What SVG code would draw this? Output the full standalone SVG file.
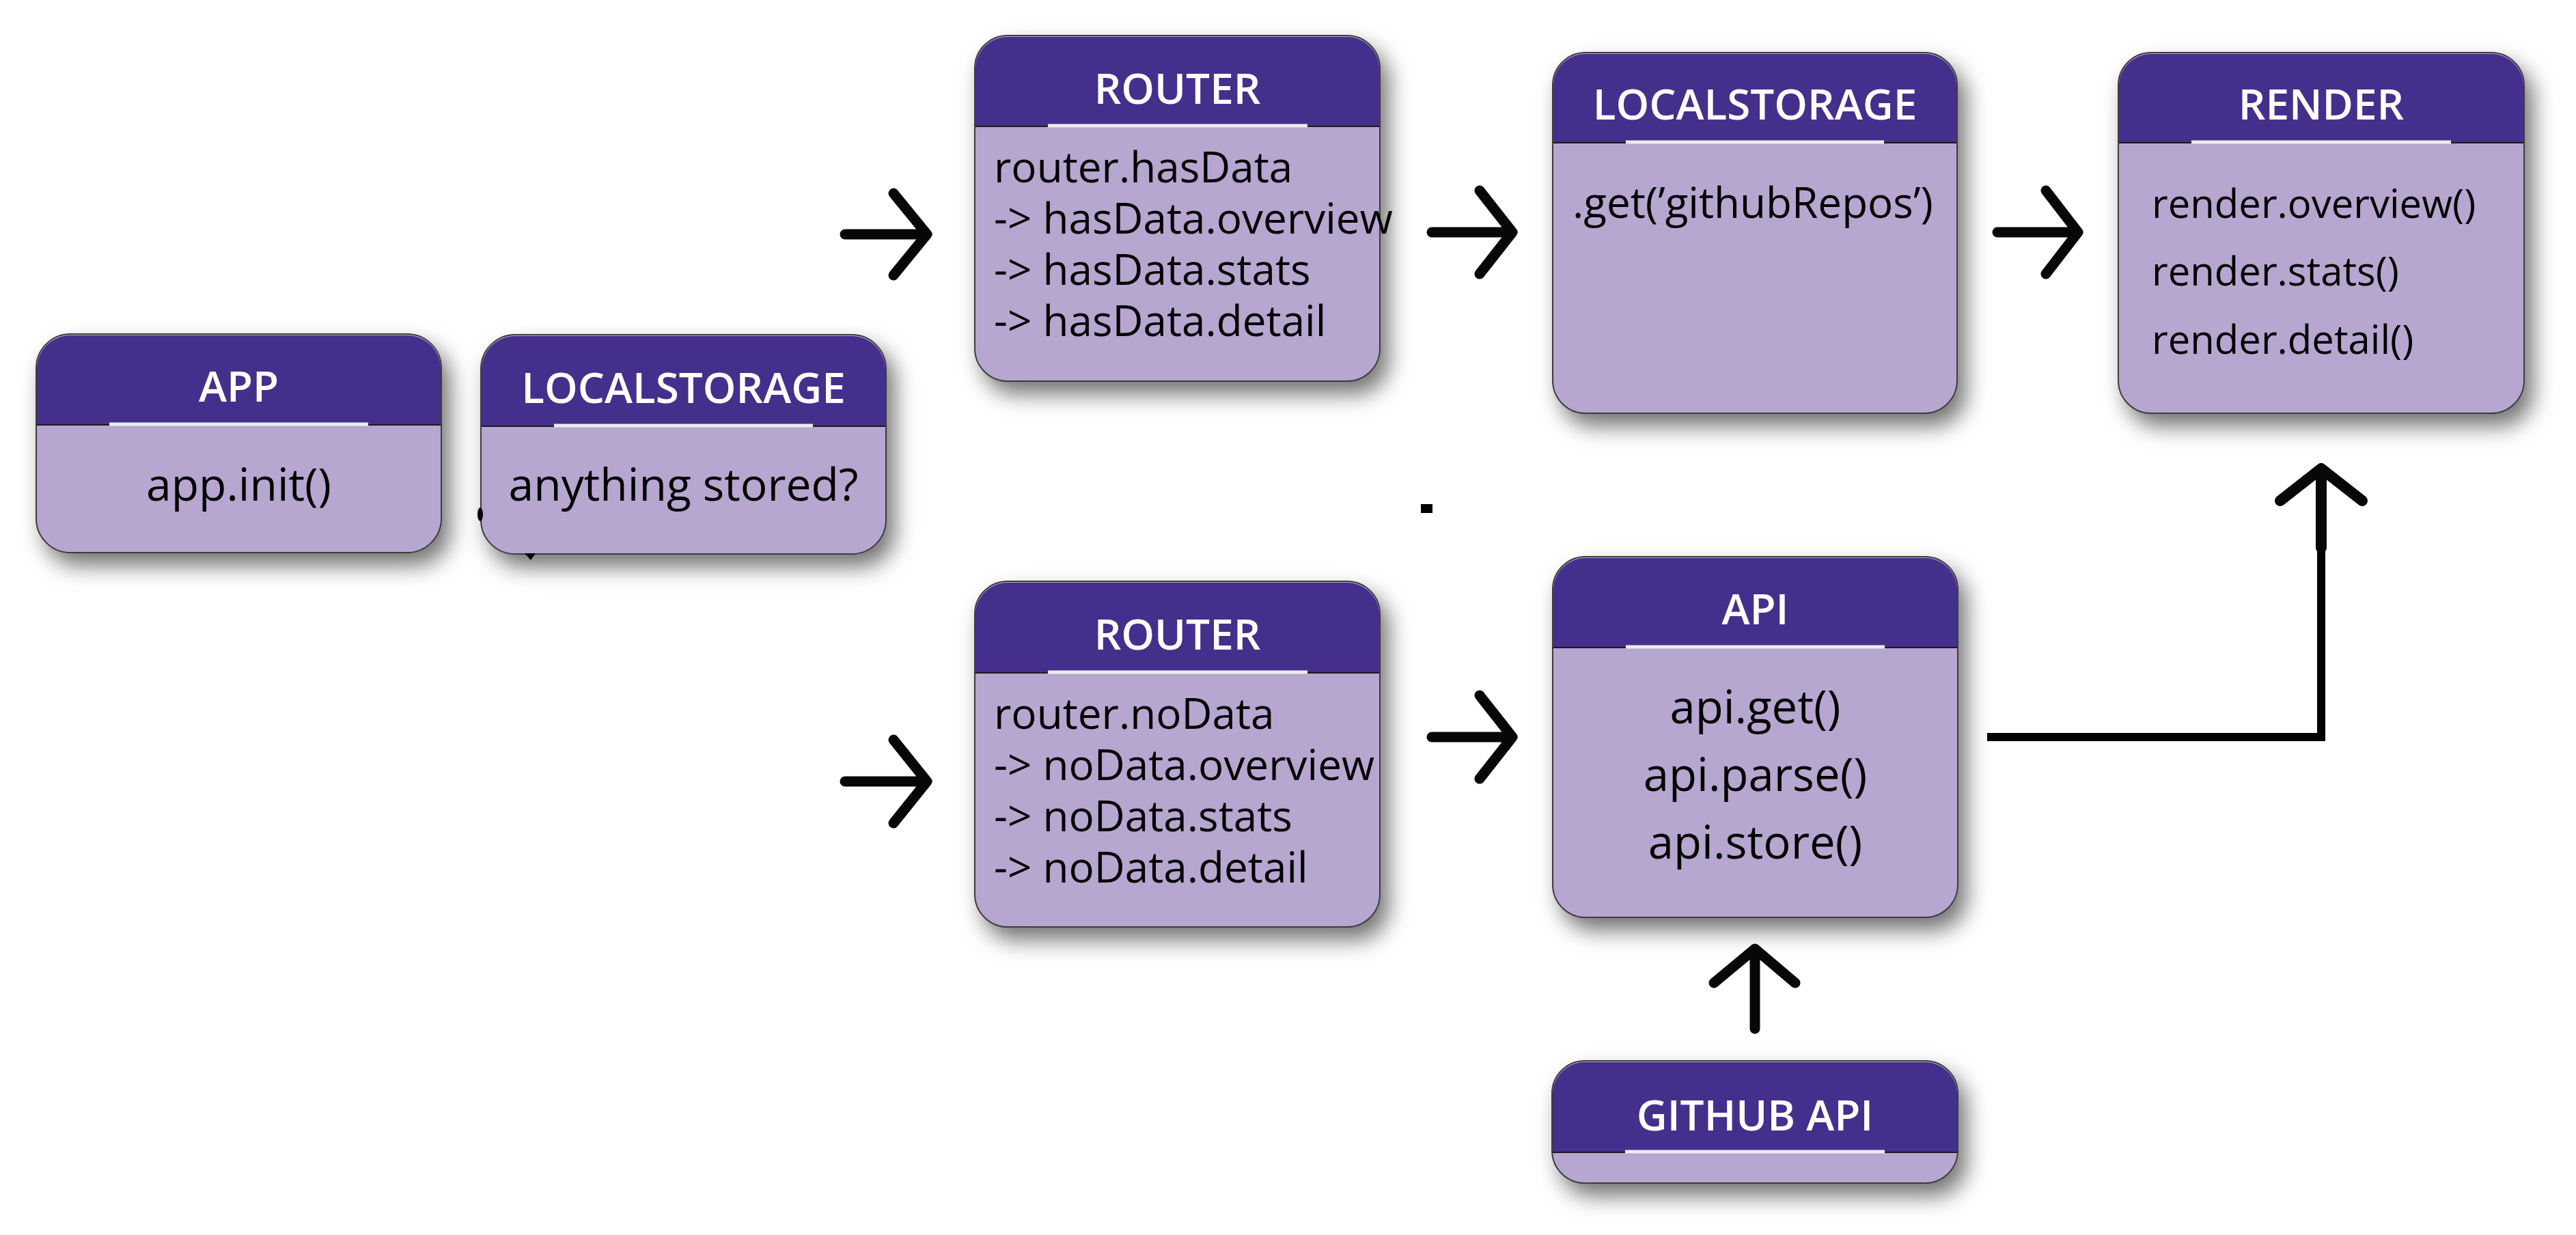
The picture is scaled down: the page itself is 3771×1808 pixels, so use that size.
<svg xmlns="http://www.w3.org/2000/svg" width="3771" height="1808" viewBox="0 0 3771 1808">
<defs>
<filter id="sh" x="-20%" y="-20%" width="150%" height="160%">
<feDropShadow dx="12" dy="18" stdDeviation="16" flood-color="#000" flood-opacity="0.55"/>
</filter>
</defs>
<style>
.body{fill:#b6a6d0;stroke:#3c3c3c;stroke-width:2}
.head{fill:#452f8d}
.div{stroke:#1a1a1a;stroke-width:2}
.wl{stroke:#ececec;stroke-width:5}
.title{font-family:"Open Sans",sans-serif;font-size:62px;font-weight:600;fill:#fff;text-anchor:middle}
.txt{font-family:"Open Sans",sans-serif;fill:#000}
.c{text-anchor:middle}
.arr{fill:none;stroke:#060808;stroke-width:15;stroke-linecap:round;stroke-linejoin:round}
.ln{fill:none;stroke:#000;stroke-width:12}
</style>
<rect width="3771" height="1808" fill="#fff"/>

<g id="app">
<rect class="body" x="53" y="489" width="593" height="320" rx="50" filter="url(#sh)"/>
<path class="head" d="M54,622 V539 A49,49 0 0 1 103,491 H596 A49,49 0 0 1 645,539 V622 Z"/>
<line class="div" x1="54" y1="622" x2="645" y2="622"/>
<line class="wl" x1="160" y1="621" x2="539" y2="621"/>
<text class="title" x="349.5" y="588">APP</text>
<text class="txt c" x="349.5" y="733" font-size="66">app.init()</text>
</g>

<g id="localstorage1">
<rect class="body" x="704" y="490" width="593" height="321" rx="50" filter="url(#sh)"/>
<path class="head" d="M705,624 V540 A49,49 0 0 1 754,492 H1247 A49,49 0 0 1 1296,540 V624 Z"/>
<line class="div" x1="705" y1="624" x2="1296" y2="624"/>
<line class="wl" x1="811" y1="623" x2="1190" y2="623"/>
<text class="title" x="1000.5" y="590">LOCALSTORAGE</text>
<text class="txt c" x="1000.5" y="733" font-size="66">anything stored?</text>
</g>

<g id="router-hasdata">
<rect class="body" x="1427" y="52" width="593" height="506" rx="48" filter="url(#sh)"/>
<path class="head" d="M1428,185 V100 A47,47 0 0 1 1475,54 H1972 A47,47 0 0 1 2019,100 V185 Z"/>
<line class="div" x1="1428" y1="185" x2="2019" y2="185"/>
<line class="wl" x1="1534" y1="184" x2="1914" y2="184"/>
<text class="title" x="1723.5" y="152">ROUTER</text>
<g class="txt" font-size="62">
<text x="1455" y="267">router.hasData</text>
<text x="1455" y="342">-&gt; hasData.overview</text>
<text x="1455" y="417">-&gt; hasData.stats</text>
<text x="1455" y="492">-&gt; hasData.detail</text>
</g>
</g>

<g id="localstorage2">
<rect class="body" x="2273" y="77" width="592" height="528" rx="48" filter="url(#sh)"/>
<path class="head" d="M2274,209 V125 A47,47 0 0 1 2321,79 H2817 A47,47 0 0 1 2864,125 V209 Z"/>
<line class="div" x1="2274" y1="209" x2="2864" y2="209"/>
<line class="wl" x1="2380" y1="208" x2="2758" y2="208"/>
<text class="title" x="2569" y="175">LOCALSTORAGE</text>
<text class="txt" x="2302" y="319" font-size="62">.get(’githubRepos’)</text>
</g>

<g id="render">
<rect class="body" x="3101" y="77" width="594" height="528" rx="48" filter="url(#sh)"/>
<path class="head" d="M3102,209 V125 A47,47 0 0 1 3149,79 H3647 A47,47 0 0 1 3694,125 V209 Z"/>
<line class="div" x1="3102" y1="209" x2="3694" y2="209"/>
<line class="wl" x1="3208" y1="208" x2="3588" y2="208"/>
<text class="title" x="3398" y="175">RENDER</text>
<g class="txt" font-size="58">
<text x="3150" y="319">render.overview()</text>
<text x="3150" y="418">render.stats()</text>
<text x="3150" y="518">render.detail()</text>
</g>
</g>

<g id="router-nodata">
<rect class="body" x="1427" y="851" width="593" height="506" rx="48" filter="url(#sh)"/>
<path class="head" d="M1428,985 V899 A47,47 0 0 1 1475,853 H1972 A47,47 0 0 1 2019,899 V985 Z"/>
<line class="div" x1="1428" y1="985" x2="2019" y2="985"/>
<line class="wl" x1="1534" y1="984" x2="1914" y2="984"/>
<text class="title" x="1723.5" y="951">ROUTER</text>
<g class="txt" font-size="62">
<text x="1455" y="1067">router.noData</text>
<text x="1455" y="1142">-&gt; noData.overview</text>
<text x="1455" y="1217">-&gt; noData.stats</text>
<text x="1455" y="1292">-&gt; noData.detail</text>
</g>
</g>

<g id="api">
<rect class="body" x="2273" y="815" width="593" height="528" rx="48" filter="url(#sh)"/>
<path class="head" d="M2274,948 V863 A47,47 0 0 1 2321,817 H2818 A47,47 0 0 1 2865,863 V948 Z"/>
<line class="div" x1="2274" y1="948" x2="2865" y2="948"/>
<line class="wl" x1="2380" y1="947" x2="2759" y2="947"/>
<text class="title" x="2569.5" y="914">API</text>
<g class="txt c" font-size="67">
<text x="2569.5" y="1059">api.get()</text>
<text x="2569.5" y="1158">api.parse()</text>
<text x="2569.5" y="1257">api.store()</text>
</g>
</g>

<g id="github-api">
<rect class="body" x="2272" y="1553" width="594" height="179" rx="48" filter="url(#sh)"/>
<path class="head" d="M2273,1687 V1601 A47,47 0 0 1 2320,1555 H2818 A47,47 0 0 1 2865,1601 V1687 Z"/>
<line class="div" x1="2273" y1="1687" x2="2865" y2="1687"/>
<line class="wl" x1="2379" y1="1686" x2="2759" y2="1686"/>
<text class="title" x="2569" y="1655">GITHUB API</text>
</g>

<g id="connectors">
<path class="arr" d="M1237,343 H1356 M1308,283 L1357,343 L1308,403"/>
<path class="arr" d="M1237,1144 H1356 M1308,1083 L1357,1144 L1308,1205"/>
<path class="arr" d="M2096,340 H2213 M2166,279 L2214,340 L2166,401"/>
<path class="arr" d="M2924,340 H3041 M2995,279 L3042,340 L2995,401"/>
<path class="arr" d="M2096,1079 H2213 M2166,1018 L2214,1079 L2166,1140"/>
<path class="arr" d="M2569,1506 V1390 M2509,1439 L2569,1389 L2628,1439"/>
<path class="ln" d="M2909,1079 H3398 V802"/>
<path class="arr" d="M3398,802 V688 M3338,733 L3398,686 L3458,733" style="stroke-width:16"/>
<ellipse cx="703" cy="753" rx="4" ry="10" fill="#000"/>
<path d="M768,810 L784,810 L777,820 Z" fill="#000"/>
<rect x="2080" y="738" width="17" height="13" fill="#000"/>
</g>
</svg>
